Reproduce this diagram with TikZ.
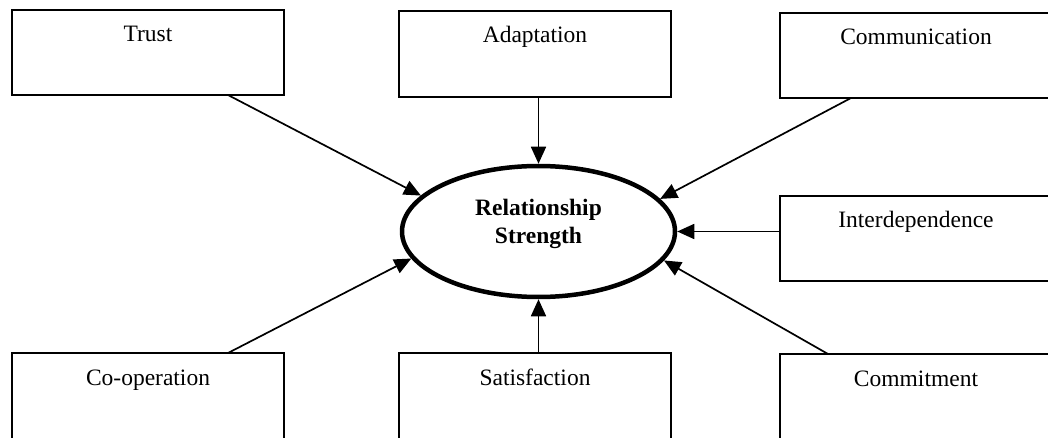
\documentclass[tikz,border=0pt]{standalone}
\usepackage{fontspec}
\setmainfont{Liberation Serif}
\usetikzlibrary{shapes.geometric,arrows.meta}
\begin{document}
\begin{tikzpicture}[x=1pt,y=-1pt,
  box/.style={draw, line width=1.5pt, inner sep=0pt, outer sep=0pt, anchor=north west,
    text width=272pt, align=center, text height=32pt, text depth=53pt,
    font=\fontsize{23.5}{28}\selectfont},
  lowbox/.style={box, text depth=62pt},
  rsnode/.style={draw, ellipse, line width=4.5pt, minimum width=273pt, minimum height=131pt, inner sep=0pt},
  rstext/.style={align=center, font=\fontsize{23.5}{28}\selectfont\bfseries},
  conn/.style={line width=1.7pt, -{Triangle[length=17pt,width=15pt]}}]
\useasboundingbox (0,0) rectangle (1048,438);
\clip (0,0) rectangle (1048,438);
\fill[white] (0,0) rectangle (1048,438);
% boxes
\node[box] (trust) at (12,10) {Trust};
\node[box, text depth=54pt] (adapt) at (399,11) {Adaptation};
\node[box] (comm) at (780,13) {Communication};
\node[box] (inter) at (780,196) {Interdependence};
\node[lowbox] (coop) at (12,353) {Co-operation};
\node[lowbox] (satis) at (399,353) {Satisfaction};
\node[lowbox] (commit) at (780,354) {Commitment};
% central ellipse
\node[rsnode] (rs) at (538.5,231.5) {};
\node[rstext] (rslabel) at (538.5,224) {Relationship\\Strength};
% connectors
\draw[conn] ([xshift=216pt]trust.south west) -- (rs.163.9);
\draw[conn] (adapt.south -| rs.north) -- (rs.north);
\draw[conn] ([xshift=71pt]comm.south west) -- (rs.15.4);
\draw[conn] (rs.east -| inter.west) -- (rs.east);
\draw[conn] ([xshift=48pt]commit.north west) -- (rs.-13.2);
\draw[conn] (satis.north -| rs.south) -- (rs.south);
\draw[conn] ([xshift=216pt]coop.north west) -- (rs.192.5);
\end{tikzpicture}
\end{document}
